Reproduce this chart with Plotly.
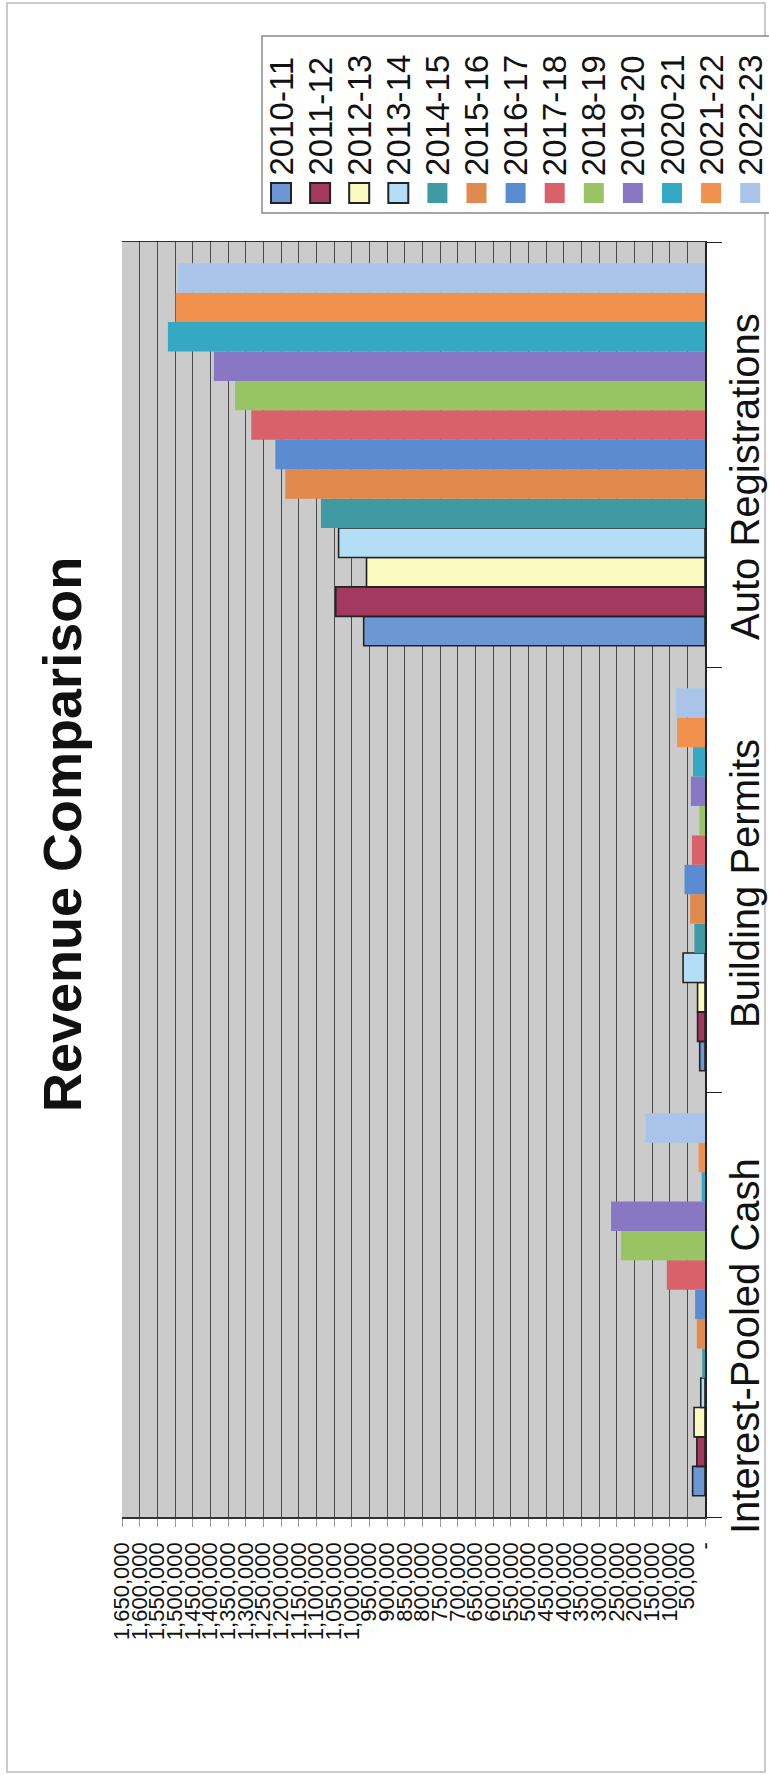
import plotly.graph_objects as go

# ---------------- data ----------------
categories = ["Interest-Pooled Cash", "Building Permits", "Auto Registrations"]
years = ["2010-11", "2011-12", "2012-13", "2013-14", "2014-15", "2015-16", "2016-17",
         "2017-18", "2018-19", "2019-20", "2020-21", "2021-22", "2022-23"]
interest_pooled_cash = [35000, 23000, 31000, 12000, 8000, 23000, 28000,
                        108000, 238000, 266000, 9600, 18000, 168000]
building_permits = [15000, 21000, 21000, 62000, 30000, 42000, 58000,
                    37000, 16000, 40000, 34000, 79000, 82000]
auto_registrations = [966000, 1045000, 958000, 1037000, 1087000, 1188000, 1216000,
                      1284000, 1330000, 1390000, 1520000, 1498000, 1492000]
tick_values = list(range(0, 1650001, 50000))
tick_labels = ["-" if v == 0 else f"{v:,}" for v in tick_values]

colors = ["#6C97D4", "#A3395F", "#FAFAC0", "#B4DDF6", "#3F9AA3", "#E08A4E", "#5B8BD0",
          "#D9616A", "#98C464", "#8878C3", "#35A8C3", "#F0924E", "#A9C4E8"]
outlined = [True, True, True, True] + [False] * 9

# ---------------- geometry ----------------
W, H = 769, 1775
L, R, T, B = 122, 705, 242, 1517
FONT = "Arial, Liberation Sans, sans-serif"


def px_x(px):
    return (px - L) / (R - L)


def px_y(py):
    return (B - py) / (B - T)


fig = go.Figure()
for i, yr in enumerate(years):
    vals = [interest_pooled_cash[i], building_permits[i], auto_registrations[i]]
    fig.add_trace(go.Bar(
        name=yr, orientation="h", y=categories, x=vals,
        marker=dict(color=colors[i],
                    line=dict(color="#222222", width=1.6 if outlined[i] else 0)),
        showlegend=False, hoverinfo="skip",
    ))

shapes = []
annotations = []

# page frame
shapes.append(dict(type="rect", xref="paper", yref="paper",
                   x0=px_x(7), x1=px_x(765), y0=px_y(1772), y1=px_y(3),
                   line=dict(color="#BBBBBB", width=1.5), layer="below"))

# legend box
shapes.append(dict(type="rect", xref="paper", yref="paper",
                   x0=px_x(262), x1=px_x(800), y0=px_y(213), y1=px_y(36),
                   line=dict(color="#888888", width=1.5), fillcolor="white", layer="below"))

for i, yr in enumerate(years):
    cx = 281 + i * 39.1
    shapes.append(dict(type="rect", xref="paper", yref="paper",
                       x0=px_x(cx - 10), x1=px_x(cx + 10), y0=px_y(203), y1=px_y(183),
                       fillcolor=colors[i],
                       line=dict(color="#222222" if outlined[i] else colors[i],
                                 width=2 if outlined[i] else 0)))
    annotations.append(dict(text=yr, xref="paper", yref="paper",
                            x=px_x(cx), y=px_y(178), xanchor="center", yanchor="bottom",
                            textangle=-90, showarrow=False,
                            font=dict(family=FONT, size=33, color="#111111")))

# title
annotations.append(dict(text="<b>Revenue Comparison</b>", xref="paper", yref="paper",
                        x=px_x(62), y=px_y(835), xanchor="center", yanchor="middle",
                        textangle=-90, showarrow=False,
                        font=dict(family=FONT, size=54, color="#111111")))

# category labels (rotated, right of the plot)
label_centers_px = [1346, 884, 477]
for cat, cy in zip(categories, label_centers_px):
    annotations.append(dict(text=cat, xref="paper", yref="paper",
                            x=px_x(745), y=px_y(cy), xanchor="center", yanchor="middle",
                            textangle=-90, showarrow=False,
                            font=dict(family=FONT, size=40, color="#111111")))

fig.update_layout(
    width=W, height=H,
    margin=dict(l=L, r=W - R, t=T, b=H - B, pad=0),
    paper_bgcolor="white", plot_bgcolor="#CBCBCB",
    barmode="group", bargap=0.1, bargroupgap=0,
    shapes=shapes, annotations=annotations,
    font=dict(family=FONT, color="#111111"),
    xaxis=dict(range=[1650000, 0], tickmode="array", tickvals=tick_values,
               ticktext=tick_labels, tickangle=-90,
               tickfont=dict(family=FONT, size=22, color="#111111"),
               showgrid=True, gridcolor="#4A4A4A", gridwidth=1,
               showline=True, linecolor="#333333", linewidth=1.5, mirror=True,
               ticks="outside", ticklen=8, tickcolor="#999999",
               zeroline=False, automargin=False, ticklabelstandoff=7),
    yaxis=dict(type="category", categoryorder="array", categoryarray=categories,
               side="right", range=[-0.5, 2.5], showticklabels=False,
               ticks="outside", ticklen=15, tickcolor="#222222", tickson="boundaries",
               showline=True, linecolor="#222222", linewidth=1.5,
               showgrid=False, zeroline=False, automargin=False),
)

fig.write_html("out.html",
               config={"displayModeBar": False, "staticPlot": True},
               post_script="document.body.style.margin='0px';document.body.style.overflow='hidden';")
